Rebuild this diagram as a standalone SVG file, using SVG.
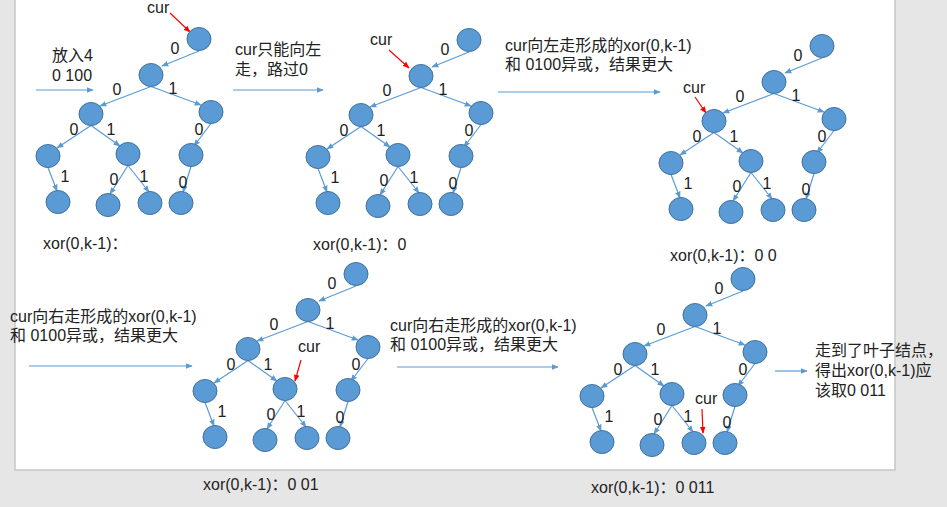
<svg xmlns="http://www.w3.org/2000/svg" width="947" height="507" viewBox="0 0 947 507">
<defs>
<style>
.n{fill:#5B9BD5;stroke:#41719C;stroke-width:1}
.e{stroke:#5B9BD5;stroke-width:1.2;fill:none;marker-end:url(#ah)}
.r{stroke:#FF0000;stroke-width:1.2;fill:none;marker-end:url(#rh)}
.a{stroke:#5B9BD5;stroke-width:1.2;fill:none;marker-end:url(#ah)}
text{font-family:"Liberation Sans","Noto Sans CJK SC",sans-serif;font-size:16px;fill:#222}
.l{text-anchor:middle}
</style>
<marker id="ah" viewBox="0 0 10 10" refX="9" refY="5" markerWidth="7" markerHeight="7" markerUnits="userSpaceOnUse" orient="auto"><path d="M0,1 L10,5 L0,9 z" fill="#5B9BD5"/></marker>
<marker id="rh" viewBox="0 0 10 10" refX="9" refY="5" markerWidth="7" markerHeight="7" markerUnits="userSpaceOnUse" orient="auto"><path d="M0,1 L10,5 L0,9 z" fill="#FF0000"/></marker>
</defs>
<rect x="0" y="0" width="947" height="507" fill="#E6E6E6"/>
<rect x="15" y="-2" width="880" height="472" fill="#FFFFFF" stroke="#C6C6C6" stroke-width="1.5"/>

<g id="connectors">
<g transform="translate(0,0)">
<line class="e" x1="199" y1="51" x2="162" y2="66"/><line class="e" x1="151" y1="86.5" x2="100" y2="106"/><line class="e" x1="151" y1="86.5" x2="201" y2="105"/><line class="e" x1="91" y1="125.5" x2="57" y2="148"/><line class="e" x1="91" y1="125.5" x2="120" y2="146"/><line class="e" x1="211" y1="123.5" x2="194" y2="146"/><line class="e" x1="48" y1="167.5" x2="57" y2="191"/><line class="e" x1="128" y1="165.5" x2="110" y2="194"/><line class="e" x1="128" y1="165.5" x2="149" y2="192"/><line class="e" x1="191" y1="166.5" x2="183" y2="192"/>
</g>
<g transform="translate(270,1)">
<line class="e" x1="199" y1="51" x2="162" y2="66"/><line class="e" x1="151" y1="86.5" x2="100" y2="106"/><line class="e" x1="151" y1="86.5" x2="201" y2="105"/><line class="e" x1="91" y1="125.5" x2="57" y2="148"/><line class="e" x1="91" y1="125.5" x2="120" y2="146"/><line class="e" x1="211" y1="123.5" x2="194" y2="146"/><line class="e" x1="48" y1="167.5" x2="57" y2="191"/><line class="e" x1="128" y1="165.5" x2="110" y2="194"/><line class="e" x1="128" y1="165.5" x2="149" y2="192"/><line class="e" x1="191" y1="166.5" x2="183" y2="192"/>
</g>
<g transform="translate(623,7)">
<line class="e" x1="199" y1="51" x2="162" y2="66"/><line class="e" x1="151" y1="86.5" x2="100" y2="106"/><line class="e" x1="151" y1="86.5" x2="201" y2="105"/><line class="e" x1="91" y1="125.5" x2="57" y2="148"/><line class="e" x1="91" y1="125.5" x2="120" y2="146"/><line class="e" x1="211" y1="123.5" x2="194" y2="146"/><line class="e" x1="48" y1="167.5" x2="57" y2="191"/><line class="e" x1="128" y1="165.5" x2="110" y2="194"/><line class="e" x1="128" y1="165.5" x2="149" y2="192"/><line class="e" x1="191" y1="166.5" x2="183" y2="192"/>
</g>
<g transform="translate(157,235)">
<line class="e" x1="199" y1="51" x2="162" y2="66"/><line class="e" x1="151" y1="86.5" x2="100" y2="106"/><line class="e" x1="151" y1="86.5" x2="201" y2="105"/><line class="e" x1="91" y1="125.5" x2="57" y2="148"/><line class="e" x1="91" y1="125.5" x2="120" y2="146"/><line class="e" x1="211" y1="123.5" x2="194" y2="146"/><line class="e" x1="48" y1="167.5" x2="57" y2="191"/><line class="e" x1="128" y1="165.5" x2="110" y2="194"/><line class="e" x1="128" y1="165.5" x2="149" y2="192"/><line class="e" x1="191" y1="166.5" x2="183" y2="192"/>
</g>
<g transform="translate(544,240)">
<line class="e" x1="199" y1="51" x2="162" y2="66"/><line class="e" x1="151" y1="86.5" x2="100" y2="106"/><line class="e" x1="151" y1="86.5" x2="201" y2="105"/><line class="e" x1="91" y1="125.5" x2="57" y2="148"/><line class="e" x1="91" y1="125.5" x2="120" y2="146"/><line class="e" x1="211" y1="123.5" x2="194" y2="146"/><line class="e" x1="48" y1="167.5" x2="57" y2="191"/><line class="e" x1="128" y1="165.5" x2="110" y2="194"/><line class="e" x1="128" y1="165.5" x2="149" y2="192"/><line class="e" x1="191" y1="166.5" x2="183" y2="192"/>
</g>
<line class="a" x1="36" y1="90" x2="93" y2="90"/>
<line class="a" x1="233" y1="90" x2="323" y2="90"/>
<line class="a" x1="498" y1="92" x2="660" y2="92"/>
<line class="a" x1="29" y1="366" x2="192" y2="366"/>
<line class="a" x1="397" y1="367" x2="558" y2="367"/>
<line class="a" x1="775" y1="371" x2="807" y2="371"/>
<line class="r" x1="170" y1="13" x2="190" y2="32"/>
<line class="r" x1="389" y1="50" x2="409" y2="68"/>
<line class="r" x1="695" y1="97" x2="706" y2="113"/>
<line class="r" x1="301" y1="360" x2="295" y2="381"/>
<line class="r" x1="702" y1="409" x2="703" y2="433"/>
</g>

<g id="edge-labels">
<g transform="translate(0,0)"><text class="l" x="175" y="54">0</text><text class="l" x="117" y="95">0</text><text class="l" x="173" y="94">1</text><text class="l" x="74" y="135">0</text><text class="l" x="111" y="135">1</text><text class="l" x="199" y="135">0</text><text class="l" x="65" y="182">1</text><text class="l" x="114" y="185">0</text><text class="l" x="144" y="182">1</text><text class="l" x="183" y="188">0</text></g>
<g transform="translate(270,1)"><text class="l" x="175" y="54">0</text><text class="l" x="117" y="95">0</text><text class="l" x="173" y="94">1</text><text class="l" x="74" y="135">0</text><text class="l" x="111" y="135">1</text><text class="l" x="199" y="135">0</text><text class="l" x="65" y="182">1</text><text class="l" x="114" y="185">0</text><text class="l" x="144" y="182">1</text><text class="l" x="183" y="188">0</text></g>
<g transform="translate(623,7)"><text class="l" x="175" y="54">0</text><text class="l" x="117" y="95">0</text><text class="l" x="173" y="94">1</text><text class="l" x="74" y="135">0</text><text class="l" x="111" y="135">1</text><text class="l" x="199" y="135">0</text><text class="l" x="65" y="182">1</text><text class="l" x="114" y="185">0</text><text class="l" x="144" y="182">1</text><text class="l" x="183" y="188">0</text></g>
<g transform="translate(157,235)"><text class="l" x="175" y="54">0</text><text class="l" x="117" y="95">0</text><text class="l" x="173" y="94">1</text><text class="l" x="74" y="135">0</text><text class="l" x="111" y="135">1</text><text class="l" x="199" y="135">0</text><text class="l" x="65" y="182">1</text><text class="l" x="114" y="185">0</text><text class="l" x="144" y="182">1</text><text class="l" x="183" y="188">0</text></g>
<g transform="translate(544,240)"><text class="l" x="175" y="54">0</text><text class="l" x="117" y="95">0</text><text class="l" x="173" y="94">1</text><text class="l" x="74" y="135">0</text><text class="l" x="111" y="135">1</text><text class="l" x="199" y="135">0</text><text class="l" x="65" y="182">1</text><text class="l" x="114" y="185">0</text><text class="l" x="144" y="182">1</text><text class="l" x="183" y="188">0</text></g>
</g>

<g id="tree1" transform="translate(0,0)">
<g id="t1-r"><ellipse class="n" cx="199" cy="39" rx="12" ry="11.5"/></g>
<g id="t1-a"><ellipse class="n" cx="151" cy="75" rx="12" ry="11.5"/></g>
<g id="t1-b"><ellipse class="n" cx="91" cy="114" rx="12" ry="11.5"/></g>
<g id="t1-c"><ellipse class="n" cx="211" cy="112" rx="12" ry="11.5"/></g>
<g id="t1-d"><ellipse class="n" cx="48" cy="156" rx="12" ry="11.5"/></g>
<g id="t1-e"><ellipse class="n" cx="128" cy="154" rx="12" ry="11.5"/></g>
<g id="t1-f"><ellipse class="n" cx="191" cy="155" rx="12" ry="11.5"/></g>
<g id="t1-g"><ellipse class="n" cx="58" cy="202" rx="12" ry="11.5"/></g>
<g id="t1-h"><ellipse class="n" cx="108" cy="205" rx="12" ry="11.5"/></g>
<g id="t1-i"><ellipse class="n" cx="150" cy="203" rx="12" ry="11.5"/></g>
<g id="t1-j"><ellipse class="n" cx="181" cy="203" rx="12" ry="11.5"/></g>
</g>
<g id="tree2" transform="translate(270,1)">
<g id="t2-r"><ellipse class="n" cx="199" cy="39" rx="12" ry="11.5"/></g>
<g id="t2-a"><ellipse class="n" cx="151" cy="75" rx="12" ry="11.5"/></g>
<g id="t2-b"><ellipse class="n" cx="91" cy="114" rx="12" ry="11.5"/></g>
<g id="t2-c"><ellipse class="n" cx="211" cy="112" rx="12" ry="11.5"/></g>
<g id="t2-d"><ellipse class="n" cx="48" cy="156" rx="12" ry="11.5"/></g>
<g id="t2-e"><ellipse class="n" cx="128" cy="154" rx="12" ry="11.5"/></g>
<g id="t2-f"><ellipse class="n" cx="191" cy="155" rx="12" ry="11.5"/></g>
<g id="t2-g"><ellipse class="n" cx="58" cy="202" rx="12" ry="11.5"/></g>
<g id="t2-h"><ellipse class="n" cx="108" cy="205" rx="12" ry="11.5"/></g>
<g id="t2-i"><ellipse class="n" cx="150" cy="203" rx="12" ry="11.5"/></g>
<g id="t2-j"><ellipse class="n" cx="181" cy="203" rx="12" ry="11.5"/></g>
</g>
<g id="tree3" transform="translate(623,7)">
<g id="t3-r"><ellipse class="n" cx="199" cy="39" rx="12" ry="11.5"/></g>
<g id="t3-a"><ellipse class="n" cx="151" cy="75" rx="12" ry="11.5"/></g>
<g id="t3-b"><ellipse class="n" cx="91" cy="114" rx="12" ry="11.5"/></g>
<g id="t3-c"><ellipse class="n" cx="211" cy="112" rx="12" ry="11.5"/></g>
<g id="t3-d"><ellipse class="n" cx="48" cy="156" rx="12" ry="11.5"/></g>
<g id="t3-e"><ellipse class="n" cx="128" cy="154" rx="12" ry="11.5"/></g>
<g id="t3-f"><ellipse class="n" cx="191" cy="155" rx="12" ry="11.5"/></g>
<g id="t3-g"><ellipse class="n" cx="58" cy="202" rx="12" ry="11.5"/></g>
<g id="t3-h"><ellipse class="n" cx="108" cy="205" rx="12" ry="11.5"/></g>
<g id="t3-i"><ellipse class="n" cx="150" cy="203" rx="12" ry="11.5"/></g>
<g id="t3-j"><ellipse class="n" cx="181" cy="203" rx="12" ry="11.5"/></g>
</g>
<g id="tree4" transform="translate(157,235)">
<g id="t4-r"><ellipse class="n" cx="199" cy="39" rx="12" ry="11.5"/></g>
<g id="t4-a"><ellipse class="n" cx="151" cy="75" rx="12" ry="11.5"/></g>
<g id="t4-b"><ellipse class="n" cx="91" cy="114" rx="12" ry="11.5"/></g>
<g id="t4-c"><ellipse class="n" cx="211" cy="112" rx="12" ry="11.5"/></g>
<g id="t4-d"><ellipse class="n" cx="48" cy="156" rx="12" ry="11.5"/></g>
<g id="t4-e"><ellipse class="n" cx="128" cy="154" rx="12" ry="11.5"/></g>
<g id="t4-f"><ellipse class="n" cx="191" cy="155" rx="12" ry="11.5"/></g>
<g id="t4-g"><ellipse class="n" cx="58" cy="202" rx="12" ry="11.5"/></g>
<g id="t4-h"><ellipse class="n" cx="108" cy="205" rx="12" ry="11.5"/></g>
<g id="t4-i"><ellipse class="n" cx="150" cy="203" rx="12" ry="11.5"/></g>
<g id="t4-j"><ellipse class="n" cx="181" cy="203" rx="12" ry="11.5"/></g>
</g>
<g id="tree5" transform="translate(544,240)">
<g id="t5-r"><ellipse class="n" cx="199" cy="39" rx="12" ry="11.5"/></g>
<g id="t5-a"><ellipse class="n" cx="151" cy="75" rx="12" ry="11.5"/></g>
<g id="t5-b"><ellipse class="n" cx="91" cy="114" rx="12" ry="11.5"/></g>
<g id="t5-c"><ellipse class="n" cx="211" cy="112" rx="12" ry="11.5"/></g>
<g id="t5-d"><ellipse class="n" cx="48" cy="156" rx="12" ry="11.5"/></g>
<g id="t5-e"><ellipse class="n" cx="128" cy="154" rx="12" ry="11.5"/></g>
<g id="t5-f"><ellipse class="n" cx="191" cy="155" rx="12" ry="11.5"/></g>
<g id="t5-g"><ellipse class="n" cx="58" cy="202" rx="12" ry="11.5"/></g>
<g id="t5-h"><ellipse class="n" cx="108" cy="205" rx="12" ry="11.5"/></g>
<g id="t5-i"><ellipse class="n" cx="150" cy="203" rx="12" ry="11.5"/></g>
<g id="t5-j"><ellipse class="n" cx="181" cy="203" rx="12" ry="11.5"/></g>
</g>

<g id="texts">
<text x="147" y="13">cur</text>
<text x="370" y="45">cur</text>
<text x="683" y="93">cur</text>
<text x="298" y="352">cur</text>
<text x="695" y="404">cur</text>
<text x="52" y="61">放入4</text>
<text x="52" y="81">0 100</text>
<text x="235" y="55">cur只能向左</text>
<text x="235" y="75">走，路过0</text>
<text x="505" y="51">cur向左走形成的xor(0,k-1)</text>
<text x="505" y="70">和 0100异或，结果更大</text>
<text x="10" y="322">cur向右走形成的xor(0,k-1)</text>
<text x="10" y="341">和 0100异或，结果更大</text>
<text x="390" y="331">cur向右走形成的xor(0,k-1)</text>
<text x="390" y="350">和 0100异或，结果更大</text>
<text x="815" y="356">走到了叶子结点，</text>
<text x="815" y="376">得出xor(0,k-1)应</text>
<text x="815" y="396">该取0 011</text>
<text x="43" y="249">xor(0,k-1)：</text>
<text x="313" y="250">xor(0,k-1)：0</text>
<text x="670" y="261">xor(0,k-1)：0 0</text>
<text x="203" y="490">xor(0,k-1)：0 01</text>
<text x="591" y="493">xor(0,k-1)：0 011</text>
</g>
</svg>
